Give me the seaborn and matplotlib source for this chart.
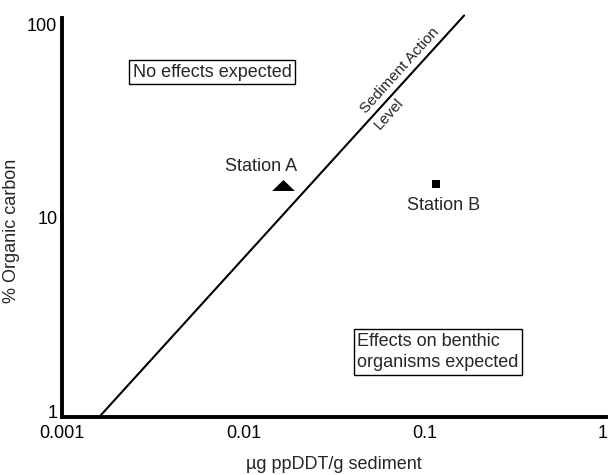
import matplotlib
matplotlib.use("Agg")
import matplotlib.pyplot as plt
import matplotlib.transforms as mtransforms
import seaborn as sns
import pandas as pd
import numpy as np

# Data
line_x = [0.0016, 0.165]
line_y = [1.0, 103.0]
stations = ["Station A", "Station B"]
station_x = [0.0165, 0.116]
station_y = [14.6, 14.7]
x_ticks = [0.001, 0.01, 0.1, 1]
x_tick_labels = ["0.001", "0.01", "0.1", "1"]
y_ticks = [1, 10, 100]
y_tick_labels = ["1", "10", "100"]

sns.set_theme(style="white")
plt.rcParams['font.family'] = ['Liberation Sans', 'DejaVu Sans']

FS = 13

fig = plt.figure(figsize=(6.09, 4.75), dpi=100)
ax = fig.add_axes([0.102, 0.122, 0.893, 0.840])

df_line = pd.DataFrame({"x": line_x, "y": line_y})
sns.lineplot(data=df_line, x="x", y="y", ax=ax, color="black", linewidth=1.5)
for l in ax.lines:
    l.set_clip_on(False)

df_st = pd.DataFrame({"x": station_x, "y": station_y, "s": stations})
tri = [(-1.0, -0.48), (1.0, -0.48), (0.0, 0.48)]
sns.scatterplot(data=df_st[df_st.s == "Station A"], x="x", y="y", marker=tri, s=270,
                color="black", linewidth=0, ax=ax, legend=False)
sns.scatterplot(data=df_st[df_st.s == "Station B"], x="x", y="y", marker="s", s=34,
                color="black", linewidth=0, ax=ax, legend=False)

ax.set_xscale("log")
ax.set_yscale("log")
ax.set_xlim(0.001, 1)
ax.set_ylim(1, 100)
ax.set_xticks(x_ticks)
ax.set_xticklabels(x_tick_labels)
ax.set_yticks(y_ticks)
ax.set_yticklabels(y_tick_labels)
ax.minorticks_off()
ax.tick_params(axis="both", direction="in", length=6, width=2, labelsize=FS,
               colors="black")
ax.tick_params(axis="x", pad=6)
ax.tick_params(axis="y", pad=3.5)
for side in ["top", "right"]:
    ax.spines[side].set_visible(False)
for side in ["left", "bottom"]:
    ax.spines[side].set_linewidth(2.8)
    ax.spines[side].set_color("black")

# nudge end y tick labels inward like the reference
ylabels = ax.get_yticklabels()
for lab, dy in zip(ylabels, [4.0, 0.0, -4.5]):
    lab.set_transform(lab.get_transform() +
                      mtransforms.ScaledTranslation(0, dy / 72, fig.dpi_scale_trans))
xlabels = ax.get_xticklabels()
xlabels[-1].set_horizontalalignment("right")
xlabels[-1].set_transform(xlabels[-1].get_transform() +
                          mtransforms.ScaledTranslation(1 / 72, 0, fig.dpi_scale_trans))

ax.set_xlabel("µg ppDDT/g sediment", fontsize=FS)
ax.set_ylabel("% Organic carbon", fontsize=FS)
ax.xaxis.set_label_coords(0.5, -0.098)
ax.yaxis.set_label_coords(-0.077, 0.466)

# Station labels
ax.text(0.01253, 18.0, stations[0], fontsize=FS, ha="center", va="center")
ax.text(0.127, 11.5, stations[1], fontsize=FS, ha="center", va="center")

# Boxes
box = dict(boxstyle="square,pad=0.2", facecolor="white", edgecolor="black", linewidth=1)
ax.text(0.00246, 53.6, "No effects expected", fontsize=FS, ha="left", va="center", bbox=box)
ax.text(0.0424, 2.12, "Effects on benthic\norganisms expected", fontsize=FS, ha="left",
        va="center", bbox=box, linespacing=1.3)

# Sediment action level label
ax.text(0.0732, 54.8, "Sediment Action", fontsize=11, rotation=48, ha="center",
        va="center", rotation_mode="anchor")
ax.text(0.0637, 33.0, "Level", fontsize=11, rotation=48, ha="center",
        va="center", rotation_mode="anchor")

fig.savefig("out.png", dpi=100)
